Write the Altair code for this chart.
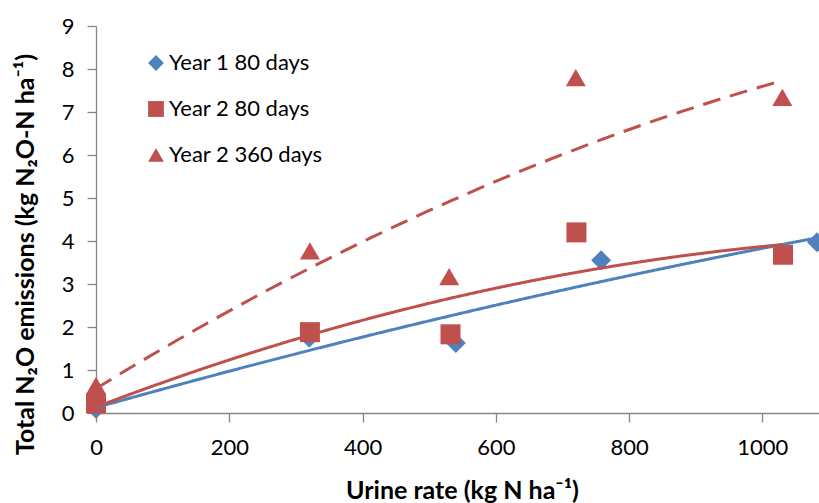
import altair as alt
import pandas as pd

series_names = ["Year 1 80 days", "Year 2 80 days", "Year 2 360 days"]
colors = ["#4F81BD", "#C0504D", "#C0504D"]
shapes = ["diamond", "square", "triangle-up"]

y1_x = [0, 320, 540, 758, 1082]
y1_y = [0.10, 1.75, 1.63, 3.55, 3.97]

y2_x = [0, 321, 532, 721, 1031]
y2_y = [0.22, 1.88, 1.83, 4.20, 3.68]

y3_x = [0, 321, 530, 720, 1030]
y3_y = [0.64, 3.77, 3.17, 7.80, 7.34]

rows = []
for name, xs, ys in zip(series_names, [y1_x, y2_x, y3_x], [y1_y, y2_y, y3_y]):
    for a, b in zip(xs, ys):
        rows.append({"series": name, "rate": a, "n2o": b})
df = pd.DataFrame(rows)

FONT = "Lato"

x_enc = alt.X("rate:Q",
              scale=alt.Scale(domain=[0, 1085], nice=False, zero=False),
              axis=alt.Axis(values=[0, 200, 400, 600, 800, 1000], format="d",
                            labelFlush=False,
                            title="Urine rate (kg N ha⁻¹)",
                            titleX=366, titleY=77, titleBaseline="middle",
                            titleAlign="center"))
y_enc = alt.Y("n2o:Q",
              scale=alt.Scale(domain=[0, 9], nice=False),
              axis=alt.Axis(values=list(range(10)), format="d",
                            labelFlush=False,
                            title="Total N₂O emissions (kg N₂O-N ha⁻¹)",
                            titleX=-71, titleY=228, titleAngle=-90,
                            titleBaseline="middle", titleAlign="center"))

color_scale = alt.Scale(domain=series_names, range=colors)

legend_cfg = dict(title=None, orient="none", legendX=49, legendY=26,
                  symbolSize=250, labelFontSize=22, labelFont=FONT,
                  labelColor="#000000", rowPadding=24,
                  labelOffset=2, padding=0, symbolStrokeWidth=0)

points = alt.Chart(df).mark_point(filled=True, opacity=1, size=400).encode(
    x=x_enc, y=y_enc,
    color=alt.Color("series:N", scale=color_scale, sort=series_names,
                    legend=alt.Legend(**legend_cfg)),
    shape=alt.Shape("series:N", scale=alt.Scale(domain=series_names, range=shapes),
                    sort=series_names, legend=alt.Legend(**legend_cfg)),
)

lines = alt.Chart(df).transform_regression(
    "rate", "n2o", method="poly", order=2, groupby=["series"]
).mark_line(strokeWidth=3).encode(
    x="rate:Q", y="n2o:Q",
    color=alt.Color("series:N", scale=color_scale, legend=None),
    strokeDash=alt.StrokeDash("series:N",
                              scale=alt.Scale(domain=series_names,
                                              range=[[1, 0], [1, 0], [18, 10]]),
                              legend=None),
)

chart = alt.layer(points, lines).properties(
    width=723, height=387,
    autosize=alt.AutoSizeParams(type="none"),
    padding={"left": 96, "top": 26, "right": 0, "bottom": 90},
).configure_view(stroke=None).configure_axis(
    grid=False,
    domainColor="#868686", tickColor="#868686", domainWidth=1.3, tickWidth=1.3,
    tickSize=9, labelFont=FONT, labelFontSize=22, labelColor="#000000",
    titleFont=FONT, titleFontSize=25, titleFontWeight="bold", titleColor="#000000",
).configure_axisY(labelPadding=13).configure_axisX(labelPadding=15)

chart.save("out.html", embed_options={"renderer": "svg", "actions": False})
